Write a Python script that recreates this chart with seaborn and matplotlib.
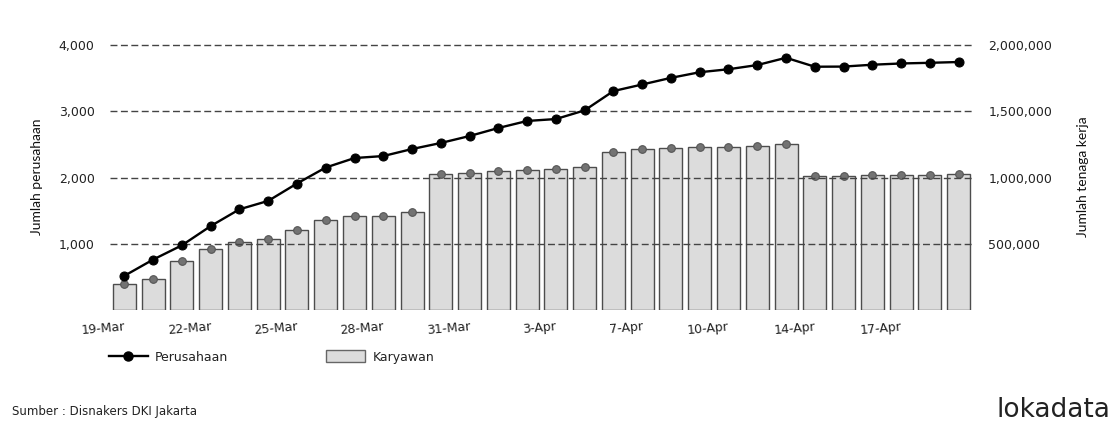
import numpy as np
import matplotlib
matplotlib.use("Agg")
import matplotlib.pyplot as plt
import seaborn as sns
from matplotlib.lines import Line2D
from matplotlib.patches import Patch

# ---- data ----
dates = ["19-Mar", "20-Mar", "21-Mar", "22-Mar", "23-Mar", "24-Mar", "25-Mar",
         "26-Mar", "27-Mar", "28-Mar", "29-Mar", "30-Mar", "31-Mar", "1-Apr",
         "2-Apr", "3-Apr", "4-Apr", "6-Apr", "7-Apr", "8-Apr", "9-Apr",
         "10-Apr", "11-Apr", "13-Apr", "14-Apr", "15-Apr", "16-Apr", "17-Apr",
         "18-Apr", "20-Apr"]
perusahaan = [520, 765, 980, 1270, 1523, 1650, 1912, 2153, 2296, 2326, 2432,
              2523, 2628, 2749, 2855, 2884, 3015, 3306, 3405, 3505, 3590,
              3635, 3698, 3808, 3673, 3675, 3703, 3722, 3732, 3744]
karyawan = [200000, 236000, 372000, 460000, 515000, 537000, 605000, 681000,
            711000, 711000, 741000, 1025000, 1037000, 1050000, 1055000,
            1065000, 1083000, 1196000, 1214000, 1226000, 1231000, 1231000,
            1239000, 1254000, 1015000, 1015000, 1022000, 1022000, 1022000,
            1030000]
left_ticks = [1000, 2000, 3000, 4000]
right_ticks = [500000, 1000000, 1500000, 2000000]

W, H = 1118, 425
fig = plt.figure(figsize=(W / 100, H / 100), dpi=100)
fig.patch.set_facecolor("white")

ax_bar = fig.add_axes([110 / W, 1 - 310.3 / H, 863 / W, (310.3 - 38.4) / H])
ax_line = ax_bar.twinx()

n = len(dates)
pos = np.arange(n)

sns.barplot(x=dates, y=karyawan, ax=ax_bar, color="#dcdcdc", saturation=1,
            width=0.8, edgecolor="#4d4d4d", linewidth=1.0)
ax_bar.plot(pos, karyawan, linestyle="none", marker="o", markersize=5.5,
            markerfacecolor="#737373", markeredgecolor="#555555",
            markeredgewidth=0.8, clip_on=False, zorder=3)

sns.lineplot(x=pos, y=perusahaan, ax=ax_line, color="black", linewidth=1.7,
             marker="o", markersize=6.5, markeredgecolor="black",
             markerfacecolor="black", clip_on=False)

ax_line.set_ylim(0, 4100)
ax_bar.set_ylim(0, 2050000)
ax_bar.set_xlim(-0.5, n - 0.5)
ax_line.set_xlim(-0.5, n - 0.5)

# axes sides
ax_line.yaxis.tick_left()
ax_bar.yaxis.tick_right()
ax_line.set_yticks(left_ticks)
ax_line.set_yticklabels([f"{v:,}" for v in left_ticks])
ax_bar.set_yticks(right_ticks)
ax_bar.set_yticklabels([f"{v:,}" for v in right_ticks])
ax_line.tick_params(axis="y", length=0, pad=11, labelsize=9, labelcolor="#222222")
ax_bar.tick_params(axis="y", length=0, pad=11, labelsize=9, labelcolor="#222222")
ax_line.set_ylabel("")
ax_bar.set_ylabel("")
ax_bar.set_xlabel("")
ax_line.set_xlabel("")

ax_bar.set_xticks(pos[::3])
ax_bar.set_xticklabels(dates[::3], rotation=5, ha="right",
                       rotation_mode="anchor")
ax_bar.tick_params(axis="x", length=0, pad=7, labelsize=9, labelcolor="#222222")
ax_line.tick_params(axis="x", length=0)

ax_line.grid(axis="y", color="#444444", linestyle=(0, (5, 2.5)), linewidth=1)
ax_line.grid(axis="x", visible=False)
ax_bar.grid(False)
for a in (ax_bar, ax_line):
    for s in a.spines.values():
        s.set_visible(False)
ax_line.patch.set_visible(False)

# axis titles
fig.text(37 / W, 1 - 177 / H, "Jumlah perusahaan", rotation=90, ha="center",
         va="center", fontsize=10, family=["Lato", "DejaVu Sans"],
         color="#111111")
fig.text(1083 / W, 1 - 177 / H, "Jumlah tenaga kerja", rotation=90,
         ha="center", va="center", fontsize=10,
         family=["Lato", "DejaVu Sans"], color="#111111")

# legend
handles = [Line2D([0], [0], color="black", linewidth=1.7, marker="o",
                  markersize=6.5),
           Patch(facecolor="#dcdcdc", edgecolor="#666666", linewidth=1)]
fig.legend(handles, ["Perusahaan", "Karyawan"], loc="center left",
           bbox_to_anchor=(109 / W, 1 - 357 / H), ncol=2, frameon=False,
           fontsize=9, handlelength=3.1, handleheight=1.1, handletextpad=0.6,
           columnspacing=7.8, borderpad=0, borderaxespad=0,
           labelcolor="#222222")

fig.text(12 / W, 1 - 411 / H, "Sumber : Disnakers DKI Jakarta", ha="left",
         va="center", fontsize=8.5, color="#222222")
fig.text(1110 / W, 1 - 410 / H, "lokadata", ha="right", va="center",
         fontsize=19, color="#222222")

fig.savefig("out.png", dpi=100, facecolor="white")
